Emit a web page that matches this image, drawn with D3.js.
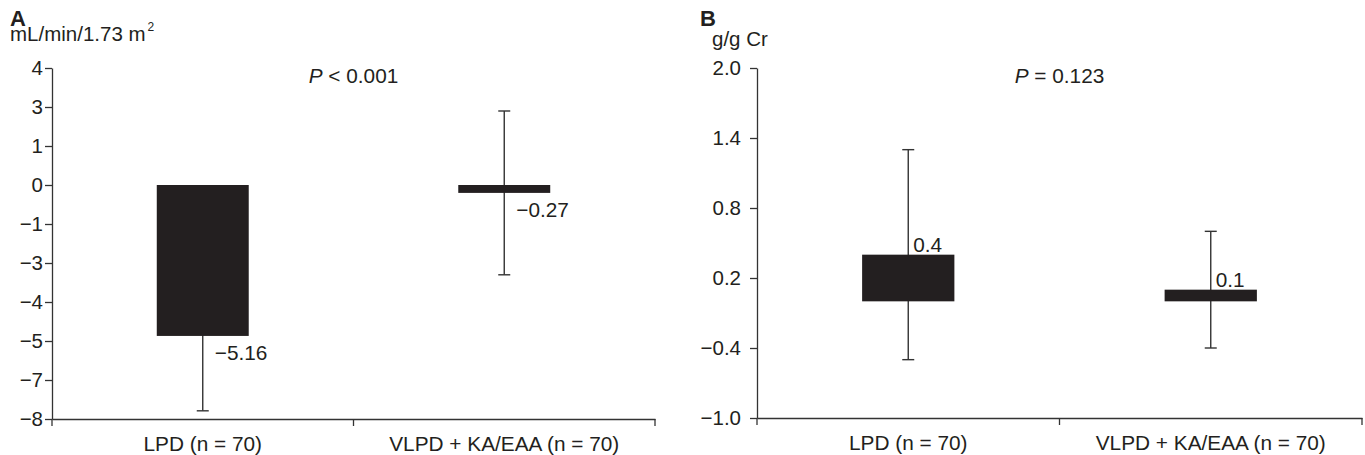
<!DOCTYPE html>
<html>
<head>
<meta charset="utf-8">
<script src="https://cdn.jsdelivr.net/npm/d3@7/dist/d3.min.js"></script>
<style>
  html, body { margin: 0; padding: 0; background: #fff; }
  svg { display: block; font-family: "Liberation Sans", Arial, Helvetica, sans-serif; }
</style>
</head>
<body>
<svg id="chart" width="1365" height="455"></svg>
<script>
// ---- data ----
const categories = ["LPD (n = 70)", "VLPD + KA/EAA (n = 70)"];

const gfrMeans = [-5.16, -0.27];
const gfrSD = [2.56, 2.8];
const gfrDomain = [-8, 4];
const gfrTickLabels = ["4", "3", "1", "0", "\u22121", "\u22123", "\u22124", "\u22125", "\u22127", "\u22128"];

const protMeans = [0.4, 0.1];
const protSD = [0.9, 0.5];
const protDomain = [-1.0, 2.0];
const protTickLabels = ["2.0", "1.4", "0.8", "0.2", "\u22120.4", "\u22121.0"];

const panelLetters = ["A", "B"];
const unitLabels = [["mL/min/1.73 m", "2"], ["g/g Cr", ""]];
const pTexts = [" < 0.001", " = 0.123"];

// ---- layout ----
const svg = d3.select("#chart");
const INK = "#231f20";
const LINE = "#333333";
const FS = 20.8;
const TFS = 20.5;

const panels = [
  { means: gfrMeans, sd: gfrSD, domain: gfrDomain, tickLabels: gfrTickLabels, fmt: d3.format(".2f"),
    x0: 52, x1: 655, yTop: 68, yBot: 419, letterX: 10, unitX: 10, unitY: 41, tickPad: 2,
    letter: panelLetters[0], unit: unitLabels[0], p: pTexts[0], labelDx: 12, negDy: 24, posDy: -3 },
  { means: protMeans, sd: protSD, domain: protDomain, tickLabels: protTickLabels, fmt: d3.format(".1f"),
    x0: 757, x1: 1362, yTop: 68, yBot: 418, letterX: 700, unitX: 712, unitY: 46, tickPad: 9,
    letter: panelLetters[1], unit: unitLabels[1], p: pTexts[1], labelDx: 5, negDy: 24, posDy: -3 }
];

panels.forEach(P => {
  const g = svg.append("g");
  const y = d3.scaleLinear().domain(P.domain).range([P.yBot, P.yTop]);
  const x = d3.scaleBand().domain(categories).range([P.x0, P.x1]).paddingInner(0).paddingOuter(0);
  const n = P.tickLabels.length;
  const step = (P.domain[1] - P.domain[0]) / (n - 1);
  const tickVals = d3.range(n).map(i => P.domain[1] - i * step);

  // y axis
  const yAxis = d3.axisLeft(y).tickValues(tickVals).tickFormat((d, i) => P.tickLabels[i])
    .tickSize(7).tickSizeOuter(0).tickPadding(P.tickPad);
  const ya = g.append("g").attr("transform", `translate(${P.x0},0)`).call(yAxis);
  ya.selectAll("path.domain").attr("stroke", LINE).attr("stroke-width", 1.3);
  ya.selectAll(".tick line").attr("stroke", LINE).attr("stroke-width", 1.3);
  ya.selectAll(".tick text").attr("fill", INK).style("font-size", TFS + "px");

  // x axis
  const xAxis = d3.axisBottom(x).tickSize(0).tickSizeOuter(0).tickPadding(17);
  const xa = g.append("g").attr("transform", `translate(0,${P.yBot})`).call(xAxis);
  xa.selectAll("path.domain").attr("stroke", LINE).attr("stroke-width", 1.3);
  xa.selectAll(".tick text").attr("fill", INK).style("font-size", FS + "px");
  const bounds = categories.map(c => x(c)).concat([P.x1]);
  g.selectAll("line.xb").data(bounds).enter().append("line")
    .attr("x1", d => d).attr("x2", d => d)
    .attr("y1", P.yBot).attr("y2", P.yBot + 7)
    .attr("stroke", LINE).attr("stroke-width", 1.3);

  const bw = x.bandwidth() * 0.305;
  const cx = c => x(c) + x.bandwidth() / 2;

  // error bars (under bars)
  const eg = g.append("g");
  categories.forEach((c, i) => {
    const m = P.means[i], s = P.sd[i];
    eg.append("line").attr("x1", cx(c)).attr("x2", cx(c))
      .attr("y1", y(m + s)).attr("y2", y(m - s))
      .attr("stroke", LINE).attr("stroke-width", 1.4);
    [m + s, m - s].forEach(v => {
      eg.append("line").attr("x1", cx(c) - 6).attr("x2", cx(c) + 6)
        .attr("y1", y(v)).attr("y2", y(v))
        .attr("stroke", LINE).attr("stroke-width", 1.4);
    });
  });

  // bars
  g.selectAll("rect.bar").data(categories).enter().append("rect")
    .attr("x", c => cx(c) - bw / 2)
    .attr("width", bw)
    .attr("y", (c, i) => y(Math.max(0, P.means[i])))
    .attr("height", (c, i) => Math.abs(y(P.means[i]) - y(0)))
    .attr("fill", INK);

  // value labels
  g.selectAll("text.val").data(categories).enter().append("text")
    .attr("x", c => cx(c) + P.labelDx)
    .attr("y", (c, i) => y(P.means[i]) + (P.means[i] < 0 ? P.negDy : P.posDy))
    .attr("fill", INK).style("font-size", FS + "px")
    .text((c, i) => P.fmt(P.means[i]));

  // P value
  const pt = g.append("text").attr("x", (P.x0 + P.x1) / 2).attr("y", 83)
    .attr("text-anchor", "middle").attr("fill", INK).style("font-size", FS + "px");
  pt.append("tspan").attr("font-style", "italic").text("P");
  pt.append("tspan").text(P.p);

  // panel letter
  g.append("text").attr("x", P.letterX).attr("y", 26)
    .attr("font-weight", "bold").attr("fill", INK).style("font-size", "22px").text(P.letter);

  // unit label
  const ut = g.append("text").attr("x", P.unitX).attr("y", P.unitY)
    .attr("fill", INK).style("font-size", "20.5px");
  ut.append("tspan").text(P.unit[0]);
  if (P.unit[1]) ut.append("tspan").attr("dy", -10).attr("dx", 2).style("font-size", "12px").text(P.unit[1]);
});
</script>
</body>
</html>
